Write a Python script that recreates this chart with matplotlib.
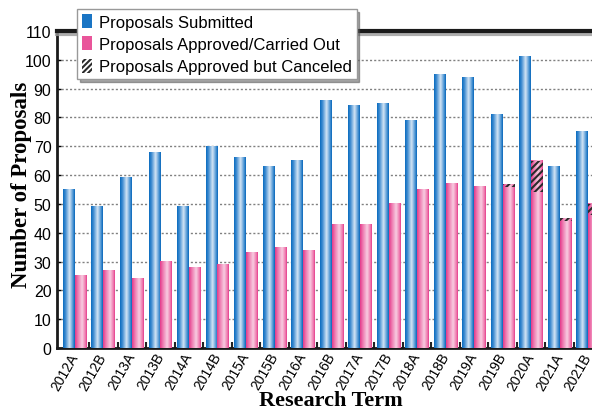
import numpy as np
import matplotlib
matplotlib.use('Agg')
import matplotlib.pyplot as plt
import matplotlib.patheffects as pe
import matplotlib.transforms as mtransforms
from matplotlib.colors import LinearSegmentedColormap
from matplotlib.patches import Patch

# data
terms = ['2012A', '2012B', '2013A', '2013B', '2014A', '2014B', '2015A', '2015B',
         '2016A', '2016B', '2017A', '2017B', '2018A', '2018B', '2019A', '2019B',
         '2020A', '2021A', '2021B']
submitted = [55, 49, 59, 68, 49, 70, 66, 63, 65, 86, 84, 85, 79, 95, 94, 81, 101, 63, 75]
approved = [25, 27, 24, 30, 28, 29, 33, 35, 34, 43, 43, 50, 55, 57, 56, 56, 54, 44, 46]
canceled = [0, 0, 0, 0, 0, 0, 0, 0, 0, 0, 0, 0, 0, 0, 0, 1, 11, 1, 4]

plt.rcParams['font.family'] = ['Liberation Sans', 'DejaVu Sans']
plt.rcParams['hatch.linewidth'] = 1.5

blue_cmap = LinearSegmentedColormap.from_list(
    'blue', [(0, '#0a6cbf'), (0.2, '#3d8bd0'), (0.55, '#d4e5f5'), (0.85, '#4a93d3'), (1, '#0767bb')])
pink_cmap = LinearSegmentedColormap.from_list(
    'pink', [(0, '#e4398a'), (0.25, '#ee7cb1'), (0.6, '#f8cde1'), (0.9, '#ee72aa'), (1, '#e4398a')])

fig = plt.figure(figsize=(5.92, 4.10), dpi=100)
ax = fig.add_axes([57/592, 61/410, 571/592, 317/410])

x = np.arange(len(terms))
w = 0.42
canc = np.array(canceled)


def shade(bars, cmap):
    grad = np.linspace(0, 1, 64).reshape(1, -1)
    for b in bars:
        x0, y0, bw, bh = b.get_x(), b.get_y(), b.get_width(), b.get_height()
        if bh <= 0:
            continue
        ax.imshow(grad, cmap=cmap, extent=[x0, x0 + bw, y0, y0 + bh],
                  aspect='auto', interpolation='bilinear', zorder=3)


b1 = ax.bar(x - w/2, submitted, w, color='#1a75c4', zorder=2)
b2 = ax.bar(x + w/2, approved, w, color='#e9559a', zorder=2)
b3 = ax.bar(x + w/2, canceled, w, bottom=approved, color='#e9559a', zorder=2)
shade(b1, blue_cmap)
shade(b2, pink_cmap)
shade(b3, pink_cmap)
ax.bar(x + w/2, np.where(canc > 0, canc, np.nan), w, bottom=approved,
       facecolor='none', edgecolor='#2b2b2b', linewidth=0, hatch='/////', zorder=4)

ax.set_xlim(-0.63, 19.4)
ax.set_ylim(0, 110)
ax.set_yticks(range(0, 111, 10))
ax.set_xticks(x)
ax.set_xticks(x[:-1] + 0.5, minor=True)
ax.set_xticklabels(terms, rotation=60, ha='right', va='center', rotation_mode='anchor', fontsize=10)
shift = mtransforms.ScaledTranslation(5/100, 0, fig.dpi_scale_trans)
for lab in ax.get_xticklabels():
    lab.set_transform(lab.get_transform() + shift)
ax.tick_params(axis='x', which='major', length=0, pad=4)
ax.tick_params(axis='x', which='minor', length=4, width=1.5, direction='in', color='#222')
ax.tick_params(axis='y', length=3, width=1, direction='in', labelsize=11.5, pad=4)

ax.set_axisbelow(True)
ax.yaxis.grid(True, linestyle=(0, (1.5, 1.5)), color='#808080', linewidth=1)

for s in ['left', 'bottom']:
    ax.spines[s].set_linewidth(2)
    ax.spines[s].set_color('#1a1a1a')
ax.spines['right'].set_visible(False)
ax.spines['top'].set_linewidth(3)
ax.spines['top'].set_color('#1a1a1a')
ax.spines['top'].set_path_effects([pe.SimpleLineShadow(offset=(0, -2), shadow_color='#999999', alpha=0.8),
                                   pe.Normal()])

fig.text(22/592, 1 - 185/410, 'Number of Proposals', rotation=90, ha='center', va='center',
         fontsize=16.5, fontweight='bold', family='Liberation Serif')
fig.text(331/592, 1 - 401/410, 'Research Term', ha='center', va='center',
         fontsize=16, fontweight='bold', family='Liberation Serif')

handles = [Patch(facecolor='#1a75c4', edgecolor='none'),
           Patch(facecolor='#e9559a', edgecolor='none'),
           Patch(facecolor='white', edgecolor='#2b2b2b', linewidth=0, hatch='//////')]
leg = fig.legend(handles, ['Proposals Submitted', 'Proposals Approved/Carried Out',
                           'Proposals Approved but Canceled'],
                 loc='upper left', bbox_to_anchor=(77/592, 1 - 10/410), borderaxespad=0,
                 fontsize=12, handlelength=0.6, handleheight=0.9, handletextpad=0.4,
                 labelspacing=0.4, borderpad=0.3, fancybox=False, shadow=True,
                 framealpha=1, edgecolor='#999999')
leg.get_frame().set_linewidth(1)
leg.set_zorder(10)

fig.savefig('out.png', dpi=100)
